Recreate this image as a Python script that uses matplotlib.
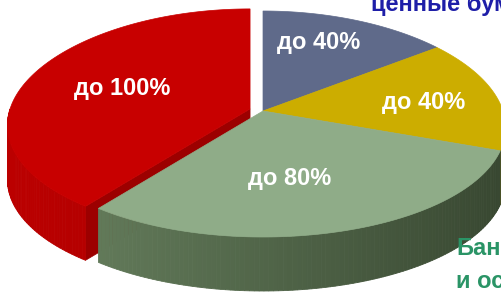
import numpy as np
import matplotlib
matplotlib.use("Agg")
import matplotlib.pyplot as plt
from matplotlib.patches import Polygon

# ---- data ----
labels = ["до 100%", "до 80%", "до 40%", "до 40%"]
shares = [39.5, 30.0, 15.8, 14.7]          # red, green, yellow, blue (slice sizes)
top_colors = ["#c80000", "#8fac88", "#ccad00", "#5f6a8a"]
wall_light = ["#bc0000", "#6c8663", "#a88f00", "#4a5470"]
wall_dark = ["#9a0000", "#36452f", "#8a7500", "#3a4258"]
explode = [0.057, 0.0, 0.0, 0.0]
start_angle = 90.0   # red starts at 12 o'clock, going counter-clockwise

cat_top = "ценные бум"
cat_bank = ["Бан", "и ос"]

W, H = 502, 293
fig = plt.figure(figsize=(W / 100, H / 100), dpi=100)
ax = fig.add_axes([0, 0, 1, 1])
ax.set_xlim(0, W)
ax.set_ylim(H, 0)
ax.axis("off")

CX, CY = 263.0, 111.0
RX = 240.0
A, B = 113.0, 13.0
K = 0.15
DEPTH = 54.0


def proj(theta_deg, r, z=0.0, off=(0.0, 0.0)):
    t = np.radians(theta_deg)
    X = r * np.cos(t)
    Y = r * np.sin(t)
    x = CX + off[0] + X * RX * (1 - K * Y)
    y = CY + off[1] - Y * (A - B * Y) + z
    return x, y


def lerp_color(c1, c2, f):
    a = np.array(matplotlib.colors.to_rgb(c1))
    b = np.array(matplotlib.colors.to_rgb(c2))
    return tuple(a + (b - a) * f)


total = sum(shares)
angles = []
a0 = start_angle
for s in shares:
    a1 = a0 + 360.0 * s / total
    angles.append((a0, a1))
    a0 = a1

# explosion offsets
offsets = []
for (t0, t1), e in zip(angles, explode):
    mid = np.radians((t0 + t1) / 2)
    offsets.append((e * RX * np.cos(mid), -e * A * np.sin(mid)))

order = [3, 2, 0, 1]  # blue, yellow, red, green (back to front)

for i in order:
    t0, t1 = angles[i]
    off = offsets[i]
    # radial face at end angle of the exploded slice (faces the viewer)
    end_norm = np.sin(np.radians(t1 + 90))
    if end_norm < 0 and explode[i] > 0:
        p1 = proj(t1, 0, 0, off)
        p2 = proj(t1, 1, 0, off)
        p3 = proj(t1, 1, DEPTH, off)
        p4 = proj(t1, 0, DEPTH, off)
        ax.add_patch(Polygon([p1, p2, p3, p4], closed=True, fc="#9c0000", ec="#9c0000", lw=0.5))
    # outer wall (front part, 180..360 deg)
    segs = []
    for base in (0, 360):
        s0 = max(t0, 180 + base)
        s1 = min(t1, 360 + base)
        if s1 > s0:
            segs.append((s0, s1))
    for s0, s1 in segs:
        n = max(int((s1 - s0) / 1.0), 2)
        th = np.linspace(s0, s1, n + 1)
        for j in range(n):
            a, b = th[j], th[j + 1]
            xm = np.cos(np.radians((a + b) / 2))
            f = np.clip((xm + 1) / 2, 0, 1)
            col = lerp_color(wall_light[i], wall_dark[i], f)
            pts = [proj(a, 1, 0, off), proj(b, 1, 0, off), proj(b, 1, DEPTH, off), proj(a, 1, DEPTH, off)]
            ax.add_patch(Polygon(pts, closed=True, fc=col, ec=col, lw=0.6))
    # top surface
    th = np.linspace(t0, t1, 200)
    pts = [proj(t0, 0, 0, off)] + [proj(t, 1, 0, off) for t in th]
    ax.add_patch(Polygon(pts, closed=True, fc=top_colors[i], ec=top_colors[i], lw=0.5))

# slice labels
label_pos = [(122, 88), (290, 178), (424, 102), (319, 43)]
fam = ["Liberation Sans Narrow", "Liberation Sans", "DejaVu Sans"]
for lab, (x, y) in zip(labels, label_pos):
    ax.text(x, y, lab, color="white", fontsize=17, fontweight="bold", family=fam,
            ha="center", va="center")

# category captions (cut off by the right edge as in the reference)
ax.text(371, 11, cat_top, color="#1e1ea8", fontsize=17, fontweight="bold",
        family=["Liberation Sans", "DejaVu Sans"], ha="left", va="baseline")
ax.text(456, 255, cat_bank[0], color="#2a9466", fontsize=17, fontweight="bold",
        family=["Liberation Sans", "DejaVu Sans"], ha="left", va="baseline")
ax.text(456, 288, cat_bank[1], color="#2a9466", fontsize=17, fontweight="bold",
        family=["Liberation Sans", "DejaVu Sans"], ha="left", va="baseline")

fig.savefig("out.png", dpi=100, facecolor="white")
